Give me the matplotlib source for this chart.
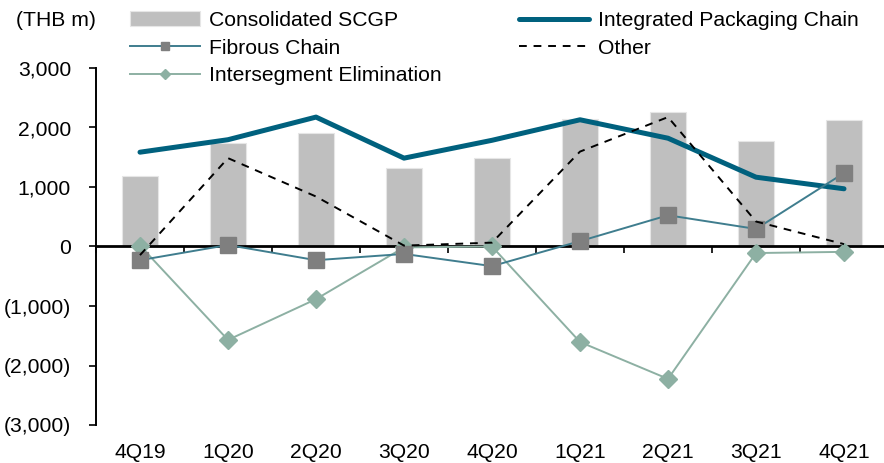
import matplotlib
matplotlib.use("Agg")
import matplotlib.pyplot as plt
from matplotlib.ticker import FuncFormatter
from matplotlib.transforms import blended_transform_factory

plt.rcParams["font.family"] = ["Liberation Sans", "DejaVu Sans"]

quarters = ["4Q19", "1Q20", "2Q20", "3Q20", "4Q20", "1Q21", "2Q21", "3Q21", "4Q21"]
consolidated = [1190, 1745, 1910, 1325, 1495, 2150, 2260, 1770, 2120]
integrated = [1585, 1795, 2175, 1485, 1785, 2130, 1820, 1165, 970]
fibrous = [-230, 25, -230, -125, -330, 90, 525, 295, 1235]
other = [-145, 1485, 840, 15, 65, 1595, 2175, 420, 40]
interseg = [15, -1570, -885, -15, 0, -1605, -2225, -110, -90]

C_BAR = "#BFBFBF"
C_IPC = "#00617E"
C_FIB = "#3F7D8E"
C_SQ = "#7F7F7F"
C_INT = "#8DB0A3"
FS = 15.2


def fmt(v, _pos):
    v = int(round(v))
    if v < 0:
        return f"({-v:,})"
    return f"{v:,}"


def main():
    fig = plt.figure(figsize=(8.84, 4.63), dpi=100)
    W, H = 884, 463
    left, right, top, bottom = 96, 888, 68, 425
    ax = fig.add_axes([left / W, 1 - bottom / H, (right - left) / W, (bottom - top) / H])
    x = list(range(len(quarters)))

    bars = ax.bar(x, consolidated, width=0.4, color=C_BAR, edgecolor="#E6E6E6",
                  linewidth=0.8, zorder=1, label="Consolidated SCGP")
    l_ipc, = ax.plot(x, integrated, color=C_IPC, linewidth=3.6, solid_capstyle="round",
                     zorder=3, label="Integrated Packaging Chain")
    l_int, = ax.plot(x, interseg, color=C_INT, linewidth=1.4, marker="D", markersize=9.5,
                     markerfacecolor=C_INT, markeredgecolor=C_INT, zorder=4,
                     label="Intersegment Elimination")
    l_fib, = ax.plot(x, fibrous, color=C_FIB, linewidth=1.4, marker="s", markersize=12,
                     markerfacecolor=C_SQ, markeredgecolor=C_SQ, zorder=5,
                     label="Fibrous Chain")
    l_oth, = ax.plot(x, other, color="black", linewidth=1.4, linestyle=(0, (4, 3.5)),
                     zorder=6, label="Other")

    ax.set_xlim(-0.5, 8.5)
    ax.set_ylim(-3000, 3000)
    ax.set_yticks(range(-3000, 3001, 1000))
    ax.yaxis.set_major_formatter(FuncFormatter(fmt))
    ax.tick_params(axis="y", direction="out", length=5, width=1.2, labelsize=FS, pad=13)

    for s in ["top", "right"]:
        ax.spines[s].set_visible(False)
    ax.spines["left"].set_linewidth(1.4)
    ax.spines["bottom"].set_position(("data", 0))
    ax.spines["bottom"].set_linewidth(2.0)
    ax.set_xticks([i + 0.5 for i in x[:-1]] + [-0.5])
    ax.tick_params(axis="x", direction="out", length=5, width=1.2, labelbottom=False)

    tr = blended_transform_factory(ax.transData, ax.transAxes)
    for i, q in zip(x, quarters):
        ax.text(i, -0.05, q, transform=tr, ha="center", va="top", fontsize=FS)

    fig.text(16 / W, 1 - 21 / H, "(THB m)", ha="left", va="center", fontsize=FS)

    ax.legend([bars, l_fib, l_int, l_ipc, l_oth],
              ["Consolidated SCGP", "Fibrous Chain", "Intersegment Elimination",
               "Integrated Packaging Chain", "Other"],
              ncol=2, frameon=False, loc="upper left",
              bbox_to_anchor=(130 / W, 1 - 11 / H), bbox_transform=fig.transFigure,
              borderpad=0, borderaxespad=0, handlelength=3.3, handletextpad=0.45,
              columnspacing=3.67, labelspacing=0.41, markerscale=0.5, fontsize=FS)

    fig.savefig("out.png", dpi=100)
    plt.close(fig)


if __name__ == "__main__":
    main()
